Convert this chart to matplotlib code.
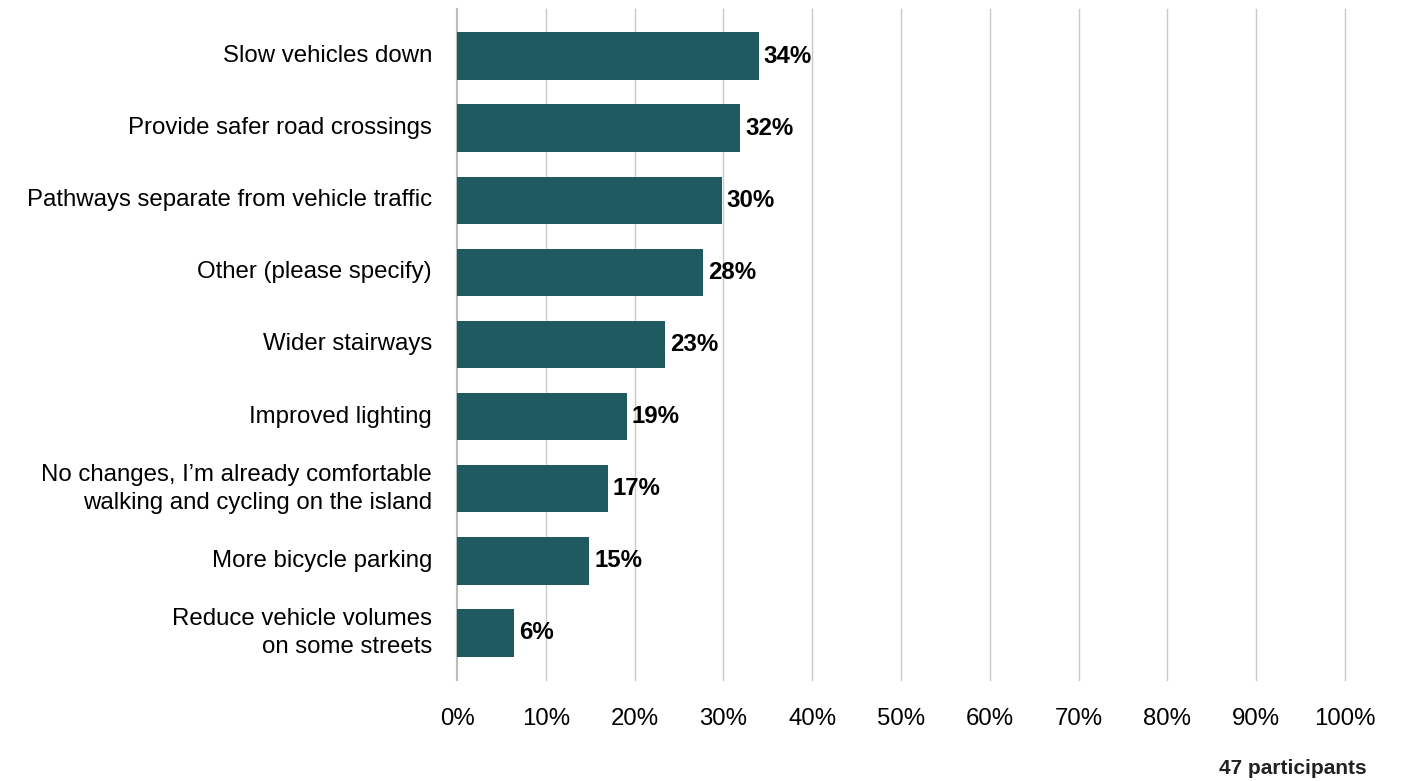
import matplotlib
matplotlib.use("Agg")
import matplotlib.pyplot as plt
from matplotlib.ticker import FuncFormatter

# ---------- DATA ----------
categories = [
    "Slow vehicles down",
    "Provide safer road crossings",
    "Pathways separate from vehicle traffic",
    "Other (please specify)",
    "Wider stairways",
    "Improved lighting",
    "No changes, I\u2019m already comfortable\nwalking and cycling on the island",
    "More bicycle parking",
    "Reduce vehicle volumes\non some streets",
]
shares = [34.0, 31.9, 29.8, 27.7, 23.4, 19.1, 17.0, 14.9, 6.4]
x_ticks = [0, 10, 20, 30, 40, 50, 60, 70, 80, 90, 100]
note = "47 participants"

BAR_COLOR = "#1F5A60"
GRID_COLOR = "#C9C9C9"
FS = 17.3

plt.rcParams["font.family"] = ["Liberation Sans", "DejaVu Sans"]

fig = plt.figure(figsize=(14.14, 7.81), dpi=100)
ax = fig.add_axes([0.3232, 0.1293, 0.628, 0.8592])

pos = list(range(len(categories)))
ax.barh(pos, shares, height=0.66, color=BAR_COLOR, zorder=3)

for p, v in zip(pos, shares):
    ax.annotate(f"{v:.0f}%", (v, p), xytext=(3.5, 0), textcoords="offset points",
                va="center", ha="left", fontsize=FS, fontweight="bold",
                color="black", zorder=4)

ax.set_xlim(0, 100)
ax.set_ylim(len(categories) - 1 + 0.655, -0.655)
ax.set_xticks(x_ticks)
ax.xaxis.set_major_formatter(FuncFormatter(lambda v, _: f"{v:.0f}%"))
ax.set_yticks(pos)
ax.set_yticklabels(categories, va="center", linespacing=1.34)

# vertical gridlines only, 0% line a little stronger
for t in x_ticks:
    ax.axvline(t, color="#BDBDBD" if t == 0 else GRID_COLOR,
               lw=1.6 if t == 0 else 1.0, zorder=1, clip_on=False)

for s in ax.spines.values():
    s.set_visible(False)
ax.tick_params(axis="x", length=0, pad=20, labelsize=FS, labelcolor="black")
ax.tick_params(axis="y", length=0, pad=18, labelsize=FS, labelcolor="black")

fig.text(1367 / 1414, 1 - 768 / 781, note, ha="right", va="center",
         fontsize=15, fontweight="bold", color="#222222")

fig.savefig("out.png", dpi=100)
plt.close(fig)
